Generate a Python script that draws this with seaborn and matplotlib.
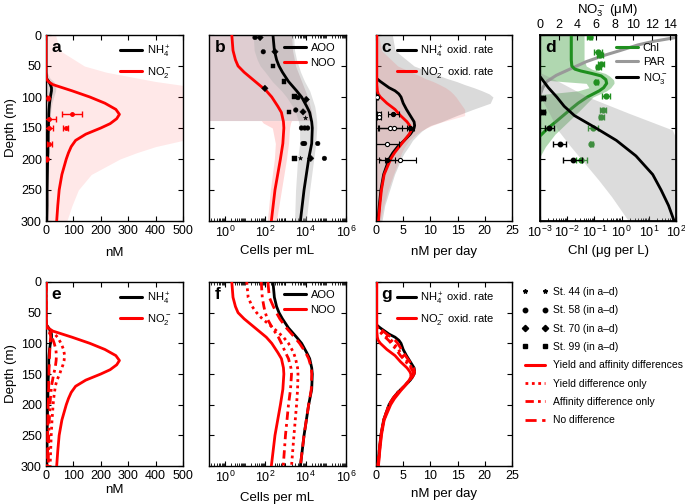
import numpy as np
import pandas as pd
import seaborn as sns
import matplotlib.pyplot as plt
from matplotlib.lines import Line2D
from matplotlib.ticker import LogLocator, NullFormatter, FixedLocator

sns.set_theme(style='ticks')
plt.rcParams['font.family'] = ['Liberation Sans', 'DejaVu Sans']
plt.rcParams['mathtext.fontset'] = 'custom'
plt.rcParams['mathtext.rm'] = 'Liberation Sans'
plt.rcParams['mathtext.it'] = 'Liberation Sans:italic'
plt.rcParams['mathtext.bf'] = 'Liberation Sans:bold'
for k in ['text.color', 'axes.labelcolor', 'xtick.color', 'ytick.color', 'axes.edgecolor']:
    plt.rcParams[k] = 'black'

RED = '#ff0000'
GREEN = '#1f8f1f'

# ---- panels a / e : concentrations (nM)
depth_n = [0, 25, 50, 60, 70, 75, 80, 85, 90, 100, 110, 120, 128, 135, 143, 150, 160, 170, 180, 190, 200, 225, 250, 275, 300]
no2 = [0, 0, 0, 0, 1, 8, 25, 60, 95, 160, 215, 255, 268, 258, 234, 200, 145, 108, 92, 82, 74, 58, 48, 43, 39]
nh4 = [0, 0, 0, 0, 2, 10, 16, 20, 20, 16, 13, 11, 10, 10, 9, 9, 8, 8, 7, 7, 6, 5, 4, 4, 3]
no2_hi = [35, 50, 140, 220, 340, 400, 480, 560, 560, 560, 560, 560, 560, 560, 560, 560, 560, 500, 400, 330, 270, 165, 118, 95, 76]
nh4_hi = [2, 2, 2, 4, 15, 28, 35, 36, 35, 28, 22, 18, 16, 15, 14, 14, 13, 12, 12, 11, 10, 9, 8, 7, 6]
no2_yield = [0, 0, 0, 0, 0, 2, 20, 32, 42, 55, 64, 68, 66, 62, 55, 50, 40, 34, 31, 28, 26, 22, 19, 17, 15]
no2_affin = [0, 0, 0, 0, 0, 1, 8, 15, 22, 30, 36, 38, 37, 35, 32, 28, 24, 20, 18, 16, 15, 12, 10, 9, 8]
no2_nodiff = [0, 0, 0, 0, 1, 6, 12, 16, 17, 15, 14, 13, 12, 12, 11, 11, 10, 10, 9, 9, 8, 7, 6, 6, 5]

a_obs_depth = [101, 127, 135, 150, 150, 175, 200]
a_obs_no2 = [8, 95, 10, 10, 72, 12, 2]
a_obs_err = [4, 35, 25, 15, 10, 10, 2]

# ---- panels b / f : cell abundance (log10 cells per mL)
depth_c = [0, 25, 40, 50, 60, 75, 90, 100, 115, 125, 140, 150, 175, 200, 250, 300]
aoo_log = [2.38, 2.45, 2.56, 2.68, 2.85, 3.15, 3.55, 3.8, 4.05, 4.2, 4.3, 4.33, 4.3, 4.15, 3.92, 3.74]
noo_log = [0.34, 0.4, 0.52, 0.65, 0.95, 1.5, 2.05, 2.32, 2.62, 2.8, 2.9, 2.92, 2.87, 2.75, 2.48, 2.3]
aoo_lo = [1.4, 1.45, 1.6, 1.75, 2.0, 2.35, 2.8, 3.05, 3.35, 3.5, 3.65, 3.7, 3.7, 3.6, 3.5, 3.45]
aoo_hi = [3.4, 3.45, 3.55, 3.65, 3.75, 3.95, 4.2, 4.3, 4.45, 4.5, 4.55, 4.55, 4.5, 4.4, 4.2, 4.03]
depth_noo_top = [0, 25, 50, 75, 100, 125, 138]
noo_top_hi = [3.3, 3.35, 3.5, 3.8, 4.1, 4.3, 4.3]
depth_noo_low = [138, 142, 150, 175, 200, 250, 300]
noo_low_lo = [1.8, 1.9, 2.35, 2.5, 2.45, 2.25, 2.1]
noo_low_hi = [3.3, 3.25, 3.2, 3.15, 3.05, 2.8, 2.55]
noo_nodiff = [2.13, 2.2, 2.4, 2.55, 2.72, 3.05, 3.45, 3.7, 4.0, 4.15, 4.28, 4.3, 4.28, 4.15, 3.92, 3.74]
noo_yield = [1.08, 1.15, 1.35, 1.57, 1.85, 2.4, 2.9, 3.15, 3.4, 3.5, 3.6, 3.62, 3.6, 3.55, 3.42, 3.3]
noo_affin = [1.8, 1.85, 1.93, 2.0, 2.1, 2.35, 2.65, 2.8, 3.0, 3.15, 3.27, 3.3, 3.25, 3.15, 3.0, 2.89]

# station observations in b (depth, log10 cells, station)
b_obs_depth = [4, 27, 101, 121, 150, 150, 150, 175, 175, 175, 199,
               4, 27, 86, 104, 124, 199,
               50, 75, 99, 124, 199,
               134, 199]
b_obs_log = [1.49, 1.9, 3.62, 3.51, 3.79, 3.95, 4.1, 3.87, 3.95, 4.6, 4.93,
             1.74, 2.48, 1.98, 4.03, 3.87, 4.25,
             2.39, 2.92, 3.46, 3.18, 3.46,
             4.0, 3.75]
b_obs_station = ['St. 58'] * 11 + ['St. 70'] * 6 + ['St. 99'] * 5 + ['St. 44'] * 2

# ---- panels c / g : oxidation rates (nM per day)
depth_r = [0, 25, 50, 60, 65, 70, 75, 80, 85, 90, 95, 100, 110, 120, 130, 140, 146, 150, 155, 160, 170, 180, 190, 200, 225, 250, 275, 300]
nh4_ox = [0, 0, 0, 0, 0, 0.1, 0.8, 1.6, 2.4, 3.5, 4.2, 4.6, 5.0, 5.6, 6.3, 7.0, 7.1, 7.0, 6.7, 6.3, 5.2, 4.0, 3.1, 2.4, 1.4, 0.9, 0.6, 0.35]
no2_ox = [0.15, 0.15, 0.15, 0.15, 0.15, 0.15, 0.15, 0.15, 0.2, 0.25, 0.4, 0.8, 2.0, 3.5, 4.5, 5.7, 6.2, 6.4, 6.4, 6.1, 5.2, 4.3, 3.4, 2.7, 1.5, 1.0, 0.7, 0.45]
nh4_ox_hi = [3, 3.5, 7, 10, 11.5, 13, 14.8, 16.3, 18, 19.5, 20.8, 21.5, 21, 17.8, 14.8, 12, 10, 9.2, 8.4, 7.8, 6.7, 6, 5.2, 4.6, 3.4, 2.5, 1.6, 1.1]
no2_ox_hi = [0.5, 1, 4, 6.5, 7.8, 9, 10.5, 11.7, 12.8, 13.6, 14.2, 14.7, 15.5, 16.3, 16.3, 12.2, 10.3, 9.3, 8.2, 7.4, 6.1, 5.3, 4.7, 4.3, 3.2, 2.2, 1.4, 0.8]
no2_ox_nodiff = [0, 0, 0, 0, 0, 0.1, 0.6, 1.3, 2.0, 2.8, 3.5, 4.0, 4.7, 5.4, 6.2, 6.9, 7.1, 7.0, 6.7, 6.3, 5.2, 4.0, 3.1, 2.4, 1.4, 0.9, 0.6, 0.35]
no2_ox_yield = [0, 0, 0, 0, 0, 0.05, 0.3, 0.9, 1.5, 2.2, 2.8, 3.3, 4.1, 4.9, 5.8, 6.6, 6.9, 6.9, 6.6, 6.2, 5.2, 4.0, 3.1, 2.4, 1.4, 0.9, 0.6, 0.35]
no2_ox_affin = [0, 0, 0, 0, 0, 0.05, 0.2, 0.6, 1.1, 1.7, 2.3, 2.8, 3.7, 4.5, 5.5, 6.4, 6.8, 6.8, 6.6, 6.2, 5.2, 4.1, 3.2, 2.5, 1.45, 0.95, 0.65, 0.4]

c_obs_depth = [100, 127, 127, 132, 150, 150, 150, 176, 201, 201]
c_obs_rate = [0.2, 0.5, 3.2, 0.6, 2.6, 3.3, 6.3, 2.0, 2.0, 4.5]
c_obs_err = [0.1, 0.4, 1.0, 0.4, 2.2, 2.8, 0.6, 2.2, 1.5, 2.9]
c_obs_open = [True, True, False, True, True, True, False, True, False, True]

# ---- panel d : Chl (log10 ug/L), PAR, NO3 (uM)
depth_chl = [0, 20, 40, 50, 55, 58, 62, 66, 72, 78, 85, 90, 100, 110, 120, 130, 140, 150, 165]
chl_log = [-1.85, -1.85, -1.85, -1.83, -1.72, -1.5, -1.1, -0.75, -0.58, -0.55, -0.66, -0.82, -1.26, -1.6, -1.88, -2.15, -2.42, -2.7, -3.05]
depth_chl_band = [0, 40, 50, 55, 58, 62, 66, 70, 72, 75, 78, 85, 90, 94, 97, 100, 120, 140, 160, 180, 196]
chl_band_lo = [-3.5, -3.5, -3.5, -3.5, -3.5, -3.5, -3.5, -3.5, -3.0, -2.2, -1.3, -1.2, -1.6, -2.5, -3.2, -3.5, -3.5, -3.5, -3.5, -3.5, -3.5]
chl_band_hi = [-1.38, -1.38, -1.3, -1.1, -0.9, -0.6, -0.45, -0.35, -0.3, -0.28, -0.28, -0.4, -0.55, -0.75, -0.9, -1.05, -1.5, -1.97, -2.45, -2.8, -3.0]
depth_par = [0, 4, 10, 16, 25, 33, 43, 54, 65, 75, 85, 97]
par_log = [2.6, 2.0, 1.2, 0.6, -0.05, -0.65, -1.3, -1.85, -2.4, -2.75, -2.9, -3.0]
depth_no3 = [67, 75, 85, 100, 115, 130, 150, 170, 195, 225, 250, 275, 300]
no3 = [0, 0.4, 0.9, 1.8, 2.6, 3.7, 6.0, 8.2, 10.3, 12.1, 13.0, 13.8, 14.4]
depth_no3_band = [62, 75, 99, 126, 153, 180, 207, 234, 261, 300]
no3_lo = [0, 0, 0, 1.0, 1.9, 3.3, 4.8, 6.3, 7.7, 9.5]
no3_hi = [0.2, 2.0, 5.0, 9.5, 14.2, 15, 15, 15, 15, 15]

d_no3_depth = [102, 124, 150, 176, 202]
d_no3_val = [0.3, 0.3, 1.0, 2.1, 3.5]
d_no3_err = [0.2, 0.2, 0.45, 0.7, 1.0]
d_chl_depth = [3, 27, 33, 46, 52, 75, 99, 121, 132, 150, 175, 202]
d_chl_log = [-1.17, -0.87, -0.8, -0.75, -0.85, -0.93, -0.56, -0.68, -0.74, -1.05, -1.11, -1.48]
d_chl_err = [0.1, 0.15, 0.1, 0.1, 0.1, 0.05, 0.15, 0.1, 0.1, 0.2, 0.05, 0.2]

station_markers = {'St. 44': '*', 'St. 58': 'o', 'St. 70': 'D', 'St. 99': 's'}

W, H = 685, 504
fig = plt.figure(figsize=(W / 100, H / 100), dpi=100)


def add_ax(x0, y0, x1, y1):
    return fig.add_axes([x0 / W, 1 - y1 / H, (x1 - x0) / W, (y1 - y0) / H])


def depth_axis(ax, label, top=True):
    ax.set_ylim(300, 0)
    ax.set_yticks(range(0, 301, 50))
    if label:
        ax.set_ylabel('Depth (m)', fontsize=9.5, labelpad=3)
    else:
        ax.set_yticklabels([])
        ax.set_ylabel('')
    ax.tick_params(which='both', direction='in', top=top, right=True)
    ax.tick_params(which='major', length=3.5, width=0.8, labelsize=9, pad=3)
    ax.tick_params(which='minor', length=2, width=0.6)
    for s in ax.spines.values():
        s.set_linewidth(1.0)
        s.set_visible(True)


def curve(ax, x, y, color, ls='-', lw=2.0, z=3):
    sns.lineplot(x=x, y=y, orient='y', sort=False, estimator=None, ax=ax,
                 color=color, linestyle=ls, lw=lw, zorder=z)


def panel_letter(ax, s):
    ax.text(0.04, 0.975, s, transform=ax.transAxes, fontsize=12.5, fontweight='bold',
            va='top', ha='left')


def leg(ax, labels, colors, x, fs=8, hl=2.0):
    hs = [Line2D([], [], color=c, lw=2.2) for c in colors]
    ax.legend(hs, labels, loc='upper left', bbox_to_anchor=(x, 0.955), frameon=False,
              fontsize=fs, handlelength=hl, handletextpad=0.4, borderpad=0,
              borderaxespad=0, labelspacing=0.45)


def log_x(ax, lo, hi, major):
    ax.set_xscale('log')
    ax.set_xlim(lo, hi)
    ax.xaxis.set_major_locator(FixedLocator(major))
    ax.xaxis.set_minor_locator(LogLocator(base=10, subs=np.arange(1, 10), numticks=30))
    ax.xaxis.set_minor_formatter(NullFormatter())


def pw(v):
    return 10 ** np.asarray(v, dtype=float)


top0, top1 = 35, 221
bot0, bot1 = 282, 466

# ================= a
ax = add_ax(46, top0, 183, top1)
ax.fill_betweenx(depth_n, 0, no2_hi, color=RED, alpha=0.09, lw=0, zorder=1)
ax.fill_betweenx(depth_n, 0, nh4_hi, color='0.6', alpha=0.3, lw=0, zorder=1)
curve(ax, nh4, depth_n, 'black')
curve(ax, no2, depth_n, RED)
ax.errorbar(a_obs_no2, a_obs_depth, xerr=a_obs_err, fmt='o', ms=2.5, color=RED,
            ecolor=RED, elinewidth=1.0, capsize=2, zorder=4)
ax.set_xlim(0, 500)
ax.set_xticks(range(0, 501, 100))
ax.set_xlabel('nM', fontsize=9.5, labelpad=7)
depth_axis(ax, True)
panel_letter(ax, 'a')
leg(ax, ['NH$_4^+$', 'NO$_2^-$'], ['black', RED], 0.54)

# ================= b
ax = add_ax(209, top0, 346, top1)
ax.fill_betweenx(depth_noo_top, 0.01, pw(noo_top_hi), color='#dfcdd1', lw=0, zorder=1)
ax.fill_betweenx(depth_noo_low, pw(noo_low_lo), pw(noo_low_hi), color='#ffd9d9', lw=0, zorder=1.5)
ax.fill_betweenx(depth_c, pw(aoo_lo), pw(aoo_hi), color='0.7', alpha=0.42, lw=0, zorder=2)
curve(ax, pw(aoo_log), depth_c, 'black')
curve(ax, pw(noo_log), depth_c, RED)
b_obs = pd.DataFrame({'depth': b_obs_depth, 'cells': pw(b_obs_log), 'station': b_obs_station})
sns.scatterplot(data=b_obs, x='cells', y='depth', style='station', markers=station_markers,
                color='black', s=11, edgecolor='black', linewidth=0.3, legend=False, ax=ax, zorder=4)
log_x(ax, 10 ** -0.79, 1e6, [1, 1e2, 1e4, 1e6])
ax.set_xlabel('Cells per mL', fontsize=9.5, labelpad=3)
depth_axis(ax, False)
panel_letter(ax, 'b')
leg(ax, ['AOO', 'NOO'], ['black', RED], 0.547)

# ================= c
ax = add_ax(376, top0, 512, top1)
ax.fill_betweenx(depth_r, 0, nh4_ox_hi, color='0.55', alpha=0.32, lw=0, zorder=1)
ax.fill_betweenx(depth_r, 0, no2_ox_hi, color=RED, alpha=0.1, lw=0, zorder=2)
curve(ax, nh4_ox, depth_r, 'black')
curve(ax, no2_ox, depth_r, RED)
for xv, yv, ev, op in zip(c_obs_rate, c_obs_depth, c_obs_err, c_obs_open):
    ax.errorbar(xv, yv, xerr=ev, fmt='o', ms=3.0, color='black',
                mfc='white' if op else 'black', mec='black', mew=0.8,
                elinewidth=0.9, capsize=2.5, zorder=4)
ax.set_xlim(0, 25)
ax.set_xticks(range(0, 26, 5))
ax.set_xlabel('nM per day', fontsize=9.5, labelpad=6)
depth_axis(ax, False)
panel_letter(ax, 'c')
leg(ax, ['NH$_4^+$ oxid. rate', 'NO$_2^-$ oxid. rate'], ['black', RED], 0.154, hl=1.7)

# ================= d
ax = add_ax(540, top0, 676, top1)
ax2 = ax.twiny()
ax.fill_betweenx(depth_chl_band, pw(chl_band_lo), pw(chl_band_hi), color=GREEN, alpha=0.35, lw=0, zorder=1)
curve(ax, pw(par_log), depth_par, '0.6', lw=2.2)
curve(ax, pw(chl_log), depth_chl, GREEN, lw=2.2, z=4)
chl_v = pw(d_chl_log)
chl_e = [chl_v - chl_v / pw(d_chl_err), chl_v * pw(d_chl_err) - chl_v]
ax.errorbar(chl_v, d_chl_depth, xerr=chl_e, fmt='o', ms=3.5, color=GREEN, ecolor=GREEN,
            elinewidth=0.9, capsize=2, zorder=5)
log_x(ax, 1e-3, 1e2, [1e-3, 1e-2, 1e-1, 1, 10, 100])
ax.set_xlabel('Chl (μg per L)', fontsize=9.5, labelpad=3)
depth_axis(ax, False, top=False)
ax2.fill_betweenx(depth_no3_band, no3_lo, no3_hi, color='0.55', alpha=0.3, lw=0, zorder=1)
curve(ax2, no3, depth_no3, 'black', lw=2.0)
ax2.errorbar(d_no3_val, d_no3_depth, xerr=d_no3_err, fmt='o', ms=3.2, color='black',
             elinewidth=0.9, capsize=2, zorder=5)
ax2.set_xlim(0, 14.6)
ax2.set_xticks(range(0, 15, 2))
ax2.set_ylim(300, 0)
ax2.set_xlabel('NO$_3^-$ (μM)', fontsize=9.5, labelpad=4)
ax2.tick_params(axis='x', direction='in', length=3.5, width=0.8, labelsize=9, pad=3)
panel_letter(ax, 'd')
hs = [Line2D([], [], color=c, lw=2.2) for c in [GREEN, '0.6', 'black']]
ax.legend(hs, ['Chl', 'PAR', 'NO$_3^-$'], loc='upper left', bbox_to_anchor=(0.56, 0.955),
          frameon=False, fontsize=8, handlelength=2.0, handletextpad=0.4, borderpad=0,
          borderaxespad=0, labelspacing=0.35)

# ================= e
ax = add_ax(46, bot0, 183, bot1)
curve(ax, nh4, depth_n, 'black')
curve(ax, no2_nodiff, depth_n, RED, ls=(0, (4, 2)))
curve(ax, no2_affin, depth_n, RED, ls=(0, (3, 1.5, 1, 1.5)))
curve(ax, no2_yield, depth_n, RED, ls=(0, (1, 1.3)))
curve(ax, no2, depth_n, RED)
ax.set_xlim(0, 500)
ax.set_xticks(range(0, 501, 100))
ax.set_xlabel('nM', fontsize=9.5, labelpad=1)
depth_axis(ax, True)
panel_letter(ax, 'e')
leg(ax, ['NH$_4^+$', 'NO$_2^-$'], ['black', RED], 0.54)

# ================= f
ax = add_ax(209, bot0, 346, bot1)
curve(ax, pw(aoo_log), depth_c, 'black')
curve(ax, pw(noo_nodiff), depth_c, RED, ls=(0, (4, 2)))
curve(ax, pw(noo_affin), depth_c, RED, ls=(0, (3, 1.5, 1, 1.5)))
curve(ax, pw(noo_yield), depth_c, RED, ls=(0, (1, 1.3)))
curve(ax, pw(noo_log), depth_c, RED)
log_x(ax, 10 ** -0.79, 1e6, [1, 1e2, 1e4, 1e6])
ax.set_xlabel('Cells per mL', fontsize=9.5, labelpad=4.5)
depth_axis(ax, False)
panel_letter(ax, 'f')
leg(ax, ['AOO', 'NOO'], ['black', RED], 0.547)

# ================= g
ax = add_ax(376, bot0, 512, bot1)
curve(ax, nh4_ox, depth_r, 'black')
curve(ax, no2_ox_nodiff, depth_r, RED, ls=(0, (4, 2)))
curve(ax, no2_ox_affin, depth_r, RED, ls=(0, (3, 1.5, 1, 1.5)))
curve(ax, no2_ox_yield, depth_r, RED, ls=(0, (1, 1.3)))
curve(ax, no2_ox, depth_r, RED)
ax.set_xlim(0, 25)
ax.set_xticks(range(0, 26, 5))
ax.set_xlabel('nM per day', fontsize=9.5, labelpad=4)
depth_axis(ax, False)
panel_letter(ax, 'g')
leg(ax, ['NH$_4^+$ oxid. rate', 'NO$_2^-$ oxid. rate'], ['black', RED], 0.154, hl=1.7)

# ================= shared legend
handles = [Line2D([], [], marker=station_markers[s], ls='none', color='black', ms=3.2)
           for s in ['St. 44', 'St. 58', 'St. 70', 'St. 99']]
labels = [s + ' (in a–d)' for s in ['St. 44', 'St. 58', 'St. 70', 'St. 99']]
handles += [Line2D([], [], color=RED, lw=2.2),
            Line2D([], [], color=RED, lw=2.0, ls=(0, (1, 1.3))),
            Line2D([], [], color=RED, lw=2.0, ls=(0, (3, 1.5, 1, 1.5))),
            Line2D([], [], color=RED, lw=2.0, ls=(0, (4, 2)))]
labels += ['Yield and affinity differences', 'Yield difference only',
           'Affinity difference only', 'No difference']
fig.legend(handles, labels, loc='upper left', bbox_to_anchor=(522 / W, 1 - 287 / H),
           frameon=False, fontsize=7.5, handlelength=2.5, handletextpad=0.5,
           labelspacing=0.8, borderpad=0, borderaxespad=0, numpoints=2)

fig.savefig('out.png', dpi=100)
